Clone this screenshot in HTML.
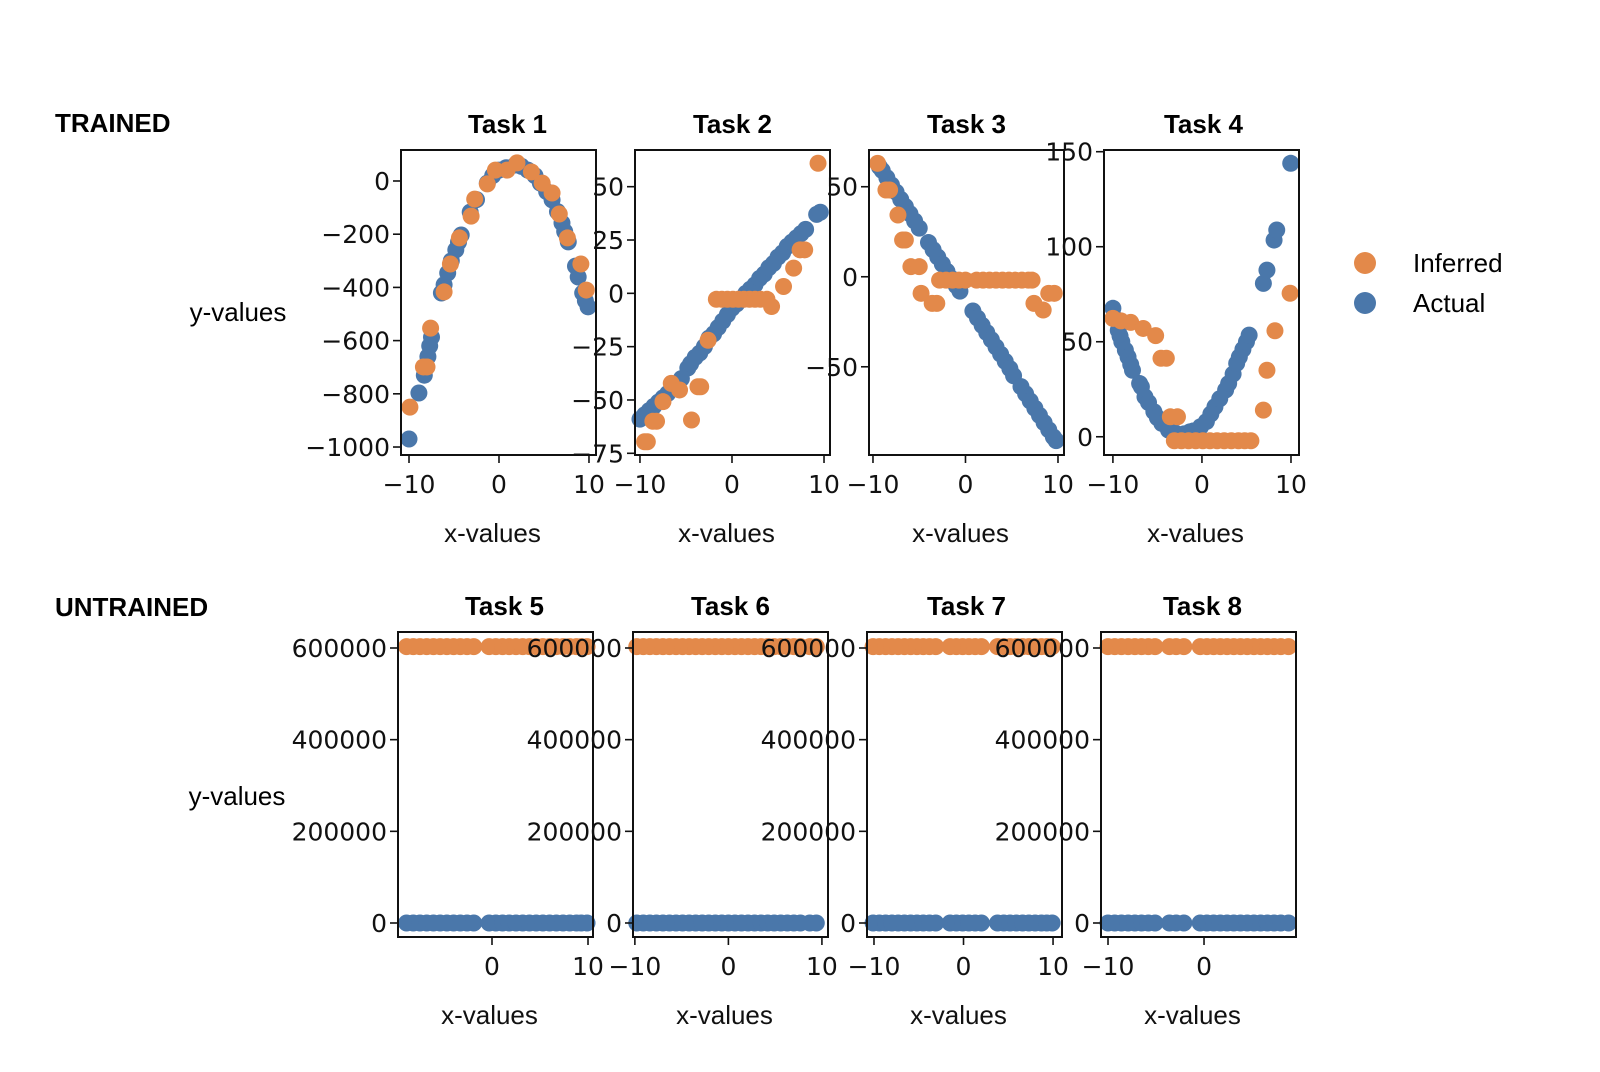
<!DOCTYPE html>
<html><head><meta charset="utf-8"><style>
html,body{margin:0;padding:0;background:#fff;}
svg{display:block;}
</style></head><body>
<svg id="fig" width="1600" height="1072" viewBox="0 0 1600 1072" xmlns="http://www.w3.org/2000/svg">
<rect width="1600" height="1072" fill="#fff"/>
<text x="55" y="132" font-family="Liberation Sans, sans-serif" font-weight="bold" font-size="26">TRAINED</text>
<text x="55" y="616" font-family="Liberation Sans, sans-serif" font-weight="bold" font-size="26">UNTRAINED</text>
<text x="238" y="321" text-anchor="middle" font-family="Liberation Sans, sans-serif" font-size="26">y-values</text>
<text x="237" y="805" text-anchor="middle" font-family="Liberation Sans, sans-serif" font-size="26">y-values</text>
<g>
<circle cx="1365" cy="263" r="11" fill="#E3894A"/>
<text x="1413" y="272" font-family="Liberation Sans, sans-serif" font-size="26">Inferred</text>
<circle cx="1365" cy="303" r="11" fill="#4A77AA"/>
<text x="1413" y="312" font-family="Liberation Sans, sans-serif" font-size="26">Actual</text>
</g>
</svg>
<script>
// ---- Data ----
const taskNames = ["Task 1","Task 2","Task 3","Task 4","Task 5","Task 6","Task 7","Task 8"];

const t1ActX = [-10,-8.9,-8.3,-8.1,-7.9,-7.7,-7.5,-6.4,-6.1,-5.7,-5.3,-4.8,-4.5,-4.2,-3.2,-2.5,-1.3,-0.7,0,0.8,1.8,2.5,3.2,4,4.6,5.3,5.9,6.5,7,7.3,7.7,8.5,8.8,9.3,9.6,9.9];
const t1ActY = [-970,-797,-730,-700,-660,-620,-587,-421,-390,-346,-300,-259,-230,-203,-117,-70,-8,20,41,50,60,55,41,20,-8,-40,-71,-115,-158,-190,-229,-320,-361,-421,-450,-473];
const t1InfX = [-9.9,-8.4,-8.0,-7.6,-6.1,-5.4,-4.4,-3.1,-2.7,-1.3,-0.4,0.9,2,3.6,4.8,5.9,6.7,7.6,9.1,9.7];
const t1InfY = [-850,-699,-699,-553,-417,-312,-214,-132,-68,-11,41,41,68,34,-8,-45,-124,-214,-312,-410];

const t2ActX = [-10,-9.5,-9,-8.5,-8,-7.5,-7,-6.5,-5.5,-4.8,-4.5,-4,-3.5,-3,-2.5,-2,-1.5,-1,-0.5,0,0.5,1,1.5,2,2.5,3,3.5,4,4.5,5,5.5,6,6.5,7,7.5,8,9.2,9.6];
const t2ActY = [-59,-57,-55,-53,-51,-49,-47,-44,-40,-35,-33,-30,-28,-25,-21,-19,-16,-13,-10,-7,-5,-3,0,2,4,7,9,12,14,17,19,22,24,26,28,30,37,38];
const t2InfX = [-9.5,-9.2,-8.6,-8.2,-7.5,-6.6,-5.7,-4.4,-3.7,-3.4,-2.6,-1.7,-1.1,-0.5,0.1,0.7,1.3,1.9,2.5,3.1,3.8,4.3,5.6,6.7,7.4,7.9,9.35];
const t2InfY = [-69.6,-69.6,-60,-60,-50.8,-42.2,-45.3,-59.4,-43.8,-43.8,-22,-2.8,-2.8,-2.8,-2.8,-2.8,-2.8,-2.8,-2.8,-2.8,-2.8,-6.2,3.2,11.8,20.4,20.4,61];

const t3ActX = [-9.3,-9,-8.5,-8,-7.5,-7,-6.5,-6,-5.5,-5,-4,-3.5,-3,-2.5,-2,-1.5,-1,-0.6,0.8,1.3,1.8,2.3,2.8,3.3,3.8,4.3,4.8,5.2,6,6.5,7,7.5,8,8.5,9,9.5,9.8];
const t3ActY = [61,59,55,51,47,43,39,35,31,27,19,15,11,7,3,-1,-5,-8,-19,-23,-27,-31,-35,-39,-43,-47,-51,-55,-61,-65,-69,-73,-77,-81,-85,-89,-91];
const t3InfX = [-9.5,-8.6,-8.2,-7.3,-6.8,-6.5,-5.9,-5.0,-4.8,-3.6,-3.1,-2.8,-2.1,-1.4,-0.7,0,1.2,1.9,2.6,3.3,4,4.7,5.4,6.1,6.8,7.2,7.4,8.4,9.0,9.6];
const t3InfY = [63,48.2,48.2,34.3,20.4,20.4,5.6,5.6,-9.2,-14.8,-14.8,-1.9,-1.9,-1.9,-1.9,-1.9,-1.9,-1.9,-1.9,-1.9,-1.9,-1.9,-1.9,-1.9,-1.9,-1.9,-14.8,-18.5,-9.2,-9.2];

const t4ActX = [-10,-9.7,-9.4,-9.2,-9,-8.6,-8.3,-8,-7.8,-7,-6.8,-6.4,-6,-5.4,-5,-4.5,-3.75,-3,-2,-1.35,-1,-0.15,0.5,1,1.46,2,2.66,3,3.5,3.9,4.2,4.6,5,5.3,6.9,7.3,8.1,8.4,9.97];
const t4ActY = [67.6,62,56,53,50,45.6,42,38,35,28,26.3,21,18,13.2,10,7,3.5,2,1.5,2.6,3,5.3,8,12,15.8,20,24.6,28,33,38.6,42,46,50,53.5,80.7,87.7,103.5,108.8,143.9];
const t4InfX = [-10,-9.1,-8,-6.6,-5.2,-4.6,-4.0,-3.55,-2.75,-3.1,-2.3,-1.5,-0.7,0.1,0.9,1.7,2.5,3.3,4.1,4.8,5.5,6.9,7.3,8.2,9.9];
const t4InfY = [62.3,61,60.2,57,53.2,41.3,41.3,10.5,10.5,-2.1,-2.1,-2.1,-2.1,-2.1,-2.1,-2.1,-2.1,-2.1,-2.1,-2.1,-2.1,14,35,55.8,75.5];

const t5X = [-8.9,-8.2,-7.5,-6.8,-6.1,-5.4,-4.7,-4.0,-3.3,-2.6,-1.9,-0.3,0.4,1.1,1.8,2.5,3.2,3.9,4.6,5.3,6.0,6.7,7.4,8.1,8.8,9.3,9.9];
const t5Inf = [603000,603000,603000,603000,603000,603000,603000,603000,603000,603000,603000,603000,603000,603000,603000,603000,603000,603000,603000,603000,603000,603000,603000,603000,603000,603000,603000];
const t5Act = [0,0,0,0,0,0,0,0,0,0,0,0,0,0,0,0,0,0,0,0,0,0,0,0,0,0,0];
const t6X = [-9.8,-9.1,-8.4,-7.7,-7.0,-6.3,-5.6,-4.9,-4.2,-3.5,-2.8,-2.1,-1.4,-0.7,0,0.7,1.4,2.1,2.8,3.5,4.2,4.9,5.6,6.3,7.0,7.7,8.7,9.4];
const t6Inf = [603000,603000,603000,603000,603000,603000,603000,603000,603000,603000,603000,603000,603000,603000,603000,603000,603000,603000,603000,603000,603000,603000,603000,603000,603000,603000,603000,603000];
const t6Act = [0,0,0,0,0,0,0,0,0,0,0,0,0,0,0,0,0,0,0,0,0,0,0,0,0,0,0,0];
const t7X = [-10.1,-9.4,-8.7,-8.0,-7.3,-6.6,-5.9,-5.2,-4.5,-3.8,-3.1,-1.5,-0.8,-0.1,0.6,1.3,2.0,3.8,4.5,5.2,5.9,6.6,7.3,8.0,8.7,9.3,9.9];
const t7Inf = [603000,603000,603000,603000,603000,603000,603000,603000,603000,603000,603000,603000,603000,603000,603000,603000,603000,603000,603000,603000,603000,603000,603000,603000,603000,603000,603000];
const t7Act = [0,0,0,0,0,0,0,0,0,0,0,0,0,0,0,0,0,0,0,0,0,0,0,0,0,0,0];
const t8X = [-10,-9.3,-8.6,-7.9,-7.2,-6.5,-5.8,-5.1,-3.6,-2.9,-2.1,-0.4,0.3,1.0,1.7,2.4,3.1,3.8,4.5,5.2,5.9,6.6,7.3,8.0,8.8];
const t8Inf = [603000,603000,603000,603000,603000,603000,603000,603000,603000,603000,603000,603000,603000,603000,603000,603000,603000,603000,603000,603000,603000,603000,603000,603000,603000];
const t8Act = [0,0,0,0,0,0,0,0,0,0,0,0,0,0,0,0,0,0,0,0,0,0,0,0,0];

const yTicks1 = [0,-200,-400,-600,-800,-1000];
const yTicks2 = [50,25,0,-25,-50,-75];
const yTicks3 = [50,0,-50];
const yTicks4 = [150,100,50,0];
const yTicksB = [600000,400000,200000,0];
const xTicksFull = [-10,0,10];
const xTicks5 = [0,10];
const xTicks8 = [-10,0];

// ---- Layout ----
const NS = "http://www.w3.org/2000/svg";
const svg = document.getElementById("fig");
const ORANGE = "#E3894A", BLUE = "#4A77AA";
const panels = [
 {left:401, top:150, bottom:455, xmin:-10.89, xmax:10.78, ymin:-1030, ymax:116.5, yt:yTicks1, xt:xTicksFull, ax:t1ActX, ay:t1ActY, ix:t1InfX, iy:t1InfY, tdx:9},
 {left:635, top:150, bottom:455, xmin:-10.54, xmax:10.65, ymin:-75.8, ymax:67.2, yt:yTicks2, xt:xTicksFull, ax:t2ActX, ay:t2ActY, ix:t2InfX, iy:t2InfY, tdx:0},
 {left:869, top:150, bottom:455, xmin:-10.43, xmax:10.65, ymin:-99, ymax:70.4, yt:yTicks3, xt:xTicksFull, ax:t3ActX, ay:t3ActY, ix:t3InfX, iy:t3InfY, tdx:0},
 {left:1104, top:150, bottom:455, xmin:-11.0, xmax:10.9, ymin:-9.6, ymax:150.9, yt:yTicks4, xt:xTicksFull, ax:t4ActX, ay:t4ActY, ix:t4InfX, iy:t4InfY, tdx:2},
 {left:398, top:632, bottom:937, xmin:-9.79, xmax:10.52, ymin:-30545, ymax:634900, yt:yTicksB, xt:xTicks5, ax:t5X, ay:t5Act, ix:t5X, iy:t5Inf, tdx:9},
 {left:633, top:632, bottom:937, xmin:-10.2, xmax:10.65, ymin:-30545, ymax:634900, yt:yTicksB, xt:xTicksFull, ax:t6X, ay:t6Act, ix:t6X, iy:t6Inf, tdx:0},
 {left:867, top:632, bottom:937, xmin:-10.78, xmax:11.0, ymin:-30545, ymax:634900, yt:yTicksB, xt:xTicksFull, ax:t7X, ay:t7Act, ix:t7X, iy:t7Inf, tdx:2},
 {left:1101, top:632, bottom:937, xmin:-10.73, xmax:9.58, ymin:-30545, ymax:634900, yt:yTicksB, xt:xTicks8, ax:t8X, ay:t8Act, ix:t8X, iy:t8Inf, tdx:4}
];
const W = 195;

function mk(tag, attrs, parent){
  const e = document.createElementNS(NS, tag);
  for (const k in attrs) e.setAttribute(k, attrs[k]);
  (parent||svg).appendChild(e);
  return e;
}
function fmt(v){ return v < 0 ? "\u2212" + Math.abs(v) : String(v); }

panels.forEach((p, i) => {
  const g = mk("g", {});
  
  
  const sx = v => p.left + (v - p.xmin) / (p.xmax - p.xmin) * W;
  const sy = v => p.bottom - (v - p.ymin) / (p.ymax - p.ymin) * (p.bottom - p.top);
  const cx = p.left + W/2;

  const title = mk("text", {x:cx + p.tdx, y:p.top - 17, "text-anchor":"middle", "font-family":"Liberation Sans, sans-serif", "font-weight":"bold", "font-size":"26"}, g);
  title.textContent = taskNames[i];
  
  

  p.ax.forEach((xv, j) => {
    const c = mk("circle", {cx:sx(xv), cy:sy(p.ay[j]), r:8.5, fill:BLUE}, g);
    
    
  });
  p.ix.forEach((xv, j) => {
    const c = mk("circle", {cx:sx(xv), cy:sy(p.iy[j]), r:8.5, fill:ORANGE}, g);
    
    
  });

  const frame = mk("rect", {x:p.left, y:p.top, width:W, height:p.bottom-p.top, fill:"none", stroke:"#111", "stroke-width":"2"}, g);
  
  

  p.yt.forEach(t => {
    const y = sy(t);
    const tk = mk("line", {x1:p.left-8, x2:p.left, y1:y, y2:y, stroke:"#111", "stroke-width":"1.6"}, g);
    
    
    const lb = mk("text", {x:p.left-11, y:y+9, "text-anchor":"end", "font-family":"DejaVu Sans, sans-serif", "font-size":"25", fill:"#111"}, g);
    lb.textContent = fmt(t);
    
    
  });
  p.xt.forEach(t => {
    const x = sx(t);
    const tk = mk("line", {x1:x, x2:x, y1:p.bottom, y2:p.bottom+8, stroke:"#111", "stroke-width":"1.6"}, g);
    
    
    const lb = mk("text", {x:x, y:p.bottom+38, "text-anchor":"middle", "font-family":"DejaVu Sans, sans-serif", "font-size":"25", fill:"#111"}, g);
    lb.textContent = fmt(t);
    
    
  });
  const xl = mk("text", {x:cx - 6, y:p.bottom + 87, "text-anchor":"middle", "font-family":"Liberation Sans, sans-serif", "font-size":"26", fill:"#111"}, g);
  xl.textContent = "x-values";
  
  
});
</script>
</body></html>
